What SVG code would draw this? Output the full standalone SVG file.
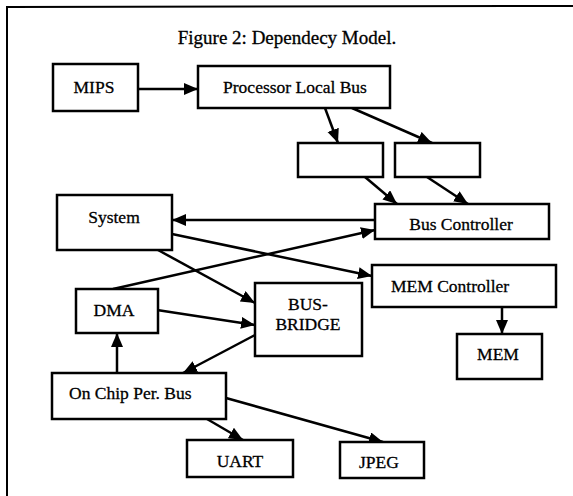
<svg xmlns="http://www.w3.org/2000/svg" width="573" height="496" viewBox="0 0 573 496">
<style>
.box{fill:#fff;stroke:#000;stroke-width:2.5}
.lbl{font-family:"Liberation Serif","Times New Roman",serif;font-size:17.5px;fill:#000;stroke:#000;stroke-width:0.3}
.mid{text-anchor:middle}
.con{stroke:#000;stroke-width:2.5;fill:none;marker-end:url(#ah)}
</style>
<defs>
<marker id="ah" markerUnits="userSpaceOnUse" markerWidth="15" markerHeight="13" refX="14" refY="6" orient="auto">
<path d="M0,0 L14,6 L0,12 z" fill="#000"/>
</marker>
</defs>
<rect width="573" height="496" fill="#fff"/>
<g id="frame">
<path d="M7,496 L7,7 L573,6" fill="none" stroke="#000" stroke-width="2"/>
</g>
<g id="title">
<text class="lbl mid" x="287" y="44" style="font-size:19px">Figure 2: Dependecy Model.</text>
</g>
<g id="connectors">
<line class="con" x1="138" y1="89" x2="198" y2="89"/>
<line class="con" x1="325" y1="108" x2="338" y2="143"/>
<line class="con" x1="352" y1="108" x2="432" y2="143"/>
<line class="con" x1="365" y1="177" x2="397" y2="204"/>
<line class="con" x1="427" y1="177" x2="468" y2="204"/>
<line class="con" x1="375" y1="220" x2="172" y2="220"/>
<line class="con" x1="172" y1="234" x2="372" y2="276"/>
<line class="con" x1="113" y1="289" x2="375" y2="230"/>
<line class="con" x1="158" y1="250" x2="255" y2="303"/>
<line class="con" x1="157" y1="310" x2="255" y2="325"/>
<line class="con" x1="255" y1="335" x2="183" y2="373"/>
<line class="con" x1="117" y1="373" x2="117" y2="333"/>
<line class="con" x1="502" y1="307" x2="502" y2="334"/>
<line class="con" x1="207" y1="419" x2="243" y2="440"/>
<line class="con" x1="226" y1="398" x2="383" y2="442"/>
</g>
<g id="mips"><rect class="box" x="53" y="64" width="85" height="47"/><text class="lbl mid" x="94" y="93">MIPS</text></g>
<g id="plb"><rect class="box" x="198" y="66" width="192" height="42"/><text class="lbl mid" x="295" y="93">Processor Local Bus</text></g>
<g id="box1"><rect class="box" x="298" y="143" width="85" height="34"/></g>
<g id="box2"><rect class="box" x="395" y="143" width="85" height="34"/></g>
<g id="system"><rect class="box" x="57" y="195" width="115" height="55"/><text class="lbl mid" x="114" y="223">System</text></g>
<g id="busctrl"><rect class="box" x="375" y="204" width="174" height="35"/><text class="lbl mid" x="461" y="230">Bus Controller</text></g>
<g id="memctrl"><rect class="box" x="372" y="265" width="184" height="42"/><text class="lbl" x="391" y="292">MEM Controller</text></g>
<g id="dma"><rect class="box" x="76" y="289" width="82" height="44"/><text class="lbl mid" x="114" y="316">DMA</text></g>
<g id="bridge"><rect class="box" x="255" y="283" width="107" height="73"/><text class="lbl mid" x="308" y="310">BUS-</text><text class="lbl mid" x="308" y="330">BRIDGE</text></g>
<g id="mem"><rect class="box" x="457" y="334" width="85" height="45"/><text class="lbl mid" x="498" y="360">MEM</text></g>
<g id="onchip"><rect class="box" x="52" y="373" width="174" height="46"/><text class="lbl" x="69" y="399">On Chip Per. Bus</text></g>
<g id="uart"><rect class="box" x="187" y="440" width="106" height="37"/><text class="lbl mid" x="240" y="467">UART</text></g>
<g id="jpeg"><rect class="box" x="340" y="442" width="84" height="36"/><text class="lbl mid" x="379" y="468">JPEG</text></g>
</svg>
